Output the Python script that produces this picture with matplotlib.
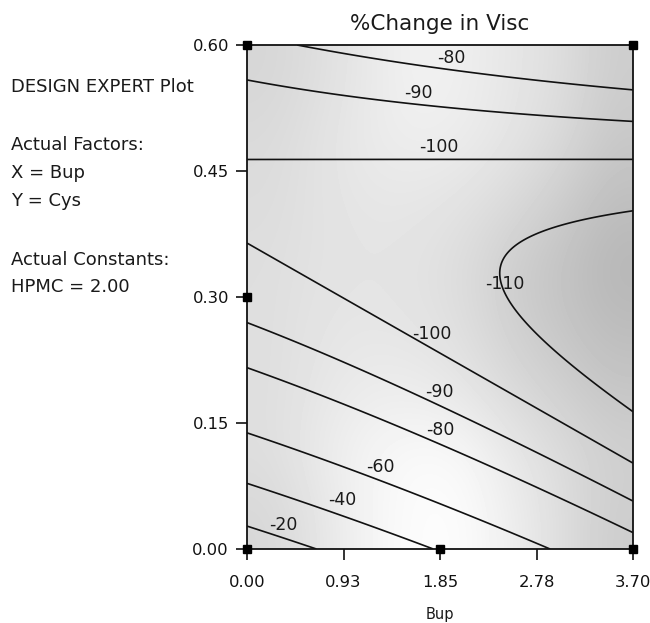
import numpy as np
import matplotlib
matplotlib.use("Agg")
import matplotlib.pyplot as plt

plt.rcParams['font.family'] = ['DejaVu Sans']

# ---- data ----
# fitted response-surface coefficients for %Change in Visc
# terms: [1, x, y, x*y, x^2, y^2]   (x = Bup, y = Cys)
coef = [-8.12, -17.86, -450.4, 38.5, 0.0, 544.0]
levels = [-110, -100, -90, -80, -60, -40, -20]
label_text = ["-80", "-90", "-100", "-110", "-100", "-90", "-80", "-60", "-40", "-20"]

x_ticks = [0.0, 0.925, 1.85, 2.775, 3.70]
x_tick_labels = ["0.00", "0.93", "1.85", "2.78", "3.70"]
y_ticks = [0.00, 0.15, 0.30, 0.45, 0.60]
y_tick_labels = ["0.00", "0.15", "0.30", "0.45", "0.60"]

design_x = [0.0, 1.85, 3.70, 0.0, 0.0, 3.70]
design_y = [0.0, 0.0, 0.0, 0.30, 0.60, 0.60]

# background shading grey levels (rows top->bottom, cols left->right)
shade = [
    [214, 222, 232, 242, 238, 230, 222, 205],
    [218, 226, 234, 238, 236, 228, 218, 200],
    [220, 226, 230, 230, 226, 218, 205, 190],
    [222, 226, 228, 226, 220, 205, 195, 182],
    [222, 228, 230, 228, 222, 208, 198, 188],
    [222, 230, 236, 236, 230, 218, 208, 198],
    [222, 234, 244, 250, 248, 232, 220, 208],
    [215, 228, 244, 252, 252, 238, 222, 205],
]

# label positions (layout)
label_pos = [(1.955, 0.585), (1.646, 0.5425), (1.837, 0.479), (2.476, 0.316),
             (1.773, 0.256), (1.847, 0.187), (1.853, 0.1413), (1.278, 0.0976),
             (0.911, 0.058), (0.345, 0.029)]

# ---- figure ----
fig = plt.figure(figsize=(6.5, 6.23), dpi=100)
ax = fig.add_axes([247/650, 1-549/623, (633-247)/650, (549-45)/623])

xmin, xmax, ymin, ymax = 0.0, 3.70, 0.0, 0.60

sh = np.array(shade, dtype=float) / 255.0
ax.imshow(sh, cmap='gray', vmin=0, vmax=1, extent=[xmin, xmax, ymin, ymax],
          aspect='auto', interpolation='bicubic', origin='upper', zorder=0)

xx = np.linspace(xmin, xmax, 400)
yy = np.linspace(ymin, ymax, 400)
X, Y = np.meshgrid(xx, yy)
c = coef
Z = c[0] + c[1]*X + c[2]*Y + c[3]*X*Y + c[4]*X**2 + c[5]*Y**2
ax.contour(X, Y, Z, levels=levels, colors='#111111', linewidths=1.2,
           linestyles='solid', zorder=2)

for t, (lx, ly) in zip(label_text, label_pos):
    ax.text(lx, ly, t, ha='center', va='center', fontsize=12.5, color='#1a1a1a', zorder=3)

ax.plot(design_x, design_y, linestyle='none', marker='s', markersize=6,
        color='black', clip_on=False, zorder=5)

ax.set_xlim(xmin, xmax)
ax.set_ylim(ymin, ymax)
ax.set_xticks(x_ticks)
ax.set_xticklabels(x_tick_labels)
ax.set_yticks(y_ticks)
ax.set_yticklabels(y_tick_labels)
ax.tick_params(axis='both', direction='out', length=8, width=1.2, labelsize=11.8,
               colors='#111111', pad=5)
ax.tick_params(axis='x', pad=11)
for s in ax.spines.values():
    s.set_linewidth(1.3)
    s.set_color('#111111')

ax.set_title("%Change in Visc", fontsize=15.5, color='#1a1a1a', pad=11)
ax.set_xlabel("Bup", fontsize=10.5, color='#1a1a1a', labelpad=12)

side = [("DESIGN EXPERT Plot", 87), ("Actual Factors:", 145), ("X = Bup", 173),
        ("Y = Cys", 201), ("Actual Constants:", 260), ("HPMC = 2.00", 287)]
for txt, py in side:
    fig.text(11/650, 1-py/623, txt, ha='left', va='center', fontsize=13, color='#1a1a1a')

fig.savefig("out.png", dpi=100)
